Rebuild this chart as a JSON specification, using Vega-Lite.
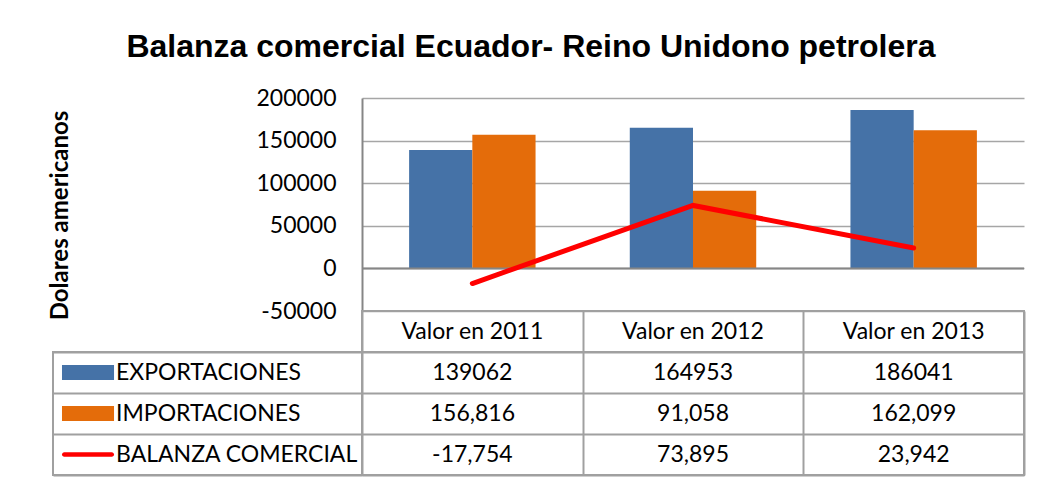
{
  "$schema": "https://vega.github.io/schema/vega-lite/v6.json",
  "datasets": {
    "valores": [
      {"anio": "Valor en 2011", "serie": "EXPORTACIONES", "valor": 139062},
      {"anio": "Valor en 2012", "serie": "EXPORTACIONES", "valor": 164953},
      {"anio": "Valor en 2013", "serie": "EXPORTACIONES", "valor": 186041},
      {"anio": "Valor en 2011", "serie": "IMPORTACIONES", "valor": 156816},
      {"anio": "Valor en 2012", "serie": "IMPORTACIONES", "valor": 91058},
      {"anio": "Valor en 2013", "serie": "IMPORTACIONES", "valor": 162099},
      {"anio": "Valor en 2011", "serie": "BALANZA COMERCIAL", "valor": -17754},
      {"anio": "Valor en 2012", "serie": "BALANZA COMERCIAL", "valor": 73895},
      {"anio": "Valor en 2013", "serie": "BALANZA COMERCIAL", "valor": 23942}
    ],
    "anios": [
      {"anio": "Valor en 2011"},
      {"anio": "Valor en 2012"},
      {"anio": "Valor en 2013"}
    ],
    "series": [
      {"serie": "EXPORTACIONES"},
      {"serie": "IMPORTACIONES"},
      {"serie": "BALANZA COMERCIAL"}
    ]
  },
  "title": {
    "text": "Balanza comercial Ecuador- Reino Unidono petrolera",
    "font": "Liberation Sans",
    "fontSize": 32,
    "fontWeight": "bold",
    "color": "#000000",
    "anchor": "middle",
    "dx": -6,
    "offset": 23
  },
  "padding": {"left": 48, "top": 31, "right": 5, "bottom": 5},
  "columns": 2,
  "spacing": 0,
  "bounds": "flush",
  "concat": [
    {
      "width": 309,
      "height": 213,
      "data": {"values": []},
      "mark": "point",
      "encoding": {},
      "view": {"stroke": null}
    },
    {
      "width": 662,
      "height": 213,
      "data": {"name": "valores"},
      "view": {"stroke": null},
      "layer": [
        {
          "transform": [{"filter": "datum.serie !== 'BALANZA COMERCIAL'"}],
          "mark": {"type": "bar"},
          "encoding": {
            "x": {
              "field": "anio",
              "type": "nominal",
              "sort": null,
              "scale": {"paddingInner": 0.427, "paddingOuter": 0.2135},
              "axis": null
            },
            "xOffset": {
              "field": "serie",
              "type": "nominal",
              "sort": null,
              "scale": {"domain": ["EXPORTACIONES", "IMPORTACIONES"], "paddingInner": 0, "paddingOuter": 0}
            },
            "y": {
              "field": "valor",
              "type": "quantitative",
              "scale": {"domain": [-50000, 200000], "nice": false, "zero": false},
              "axis": {
                "values": [-50000, 0, 50000, 100000, 150000, 200000],
                "format": "d",
                "grid": true,
                "gridColor": "#A6A6A6",
                "gridWidth": 1.5,
                "domainColor": "#868686",
                "domainWidth": 2,
                "ticks": false,
                "labelPadding": 26,
                "labelFont": "Lato",
                "labelFontSize": 23,
                "labelColor": "#000000",
                "title": "Dolares americanos",
                "titleFont": "Lato",
                "titleFontSize": 24,
                "titleFontWeight": "bold",
                "titleColor": "#000000",
                "titlePadding": 183,
                "titleY": 117
              }
            },
            "color": {
              "field": "serie",
              "type": "nominal",
              "scale": {"domain": ["EXPORTACIONES", "IMPORTACIONES"], "range": ["#4572A7", "#E46C0A"]},
              "legend": null
            }
          }
        },
        {
          "data": {"values": [{}]},
          "mark": {"type": "rule", "color": "#868686", "strokeWidth": 2},
          "encoding": {"y": {"datum": 0, "type": "quantitative"}}
        },
        {
          "transform": [{"filter": "datum.serie === 'BALANZA COMERCIAL'"}],
          "mark": {"type": "line", "color": "#FF0000", "strokeWidth": 5, "strokeCap": "round"},
          "encoding": {
            "x": {"field": "anio", "type": "nominal", "sort": null},
            "y": {"field": "valor", "type": "quantitative"}
          }
        }
      ]
    },
    {
      "width": 309,
      "height": 41,
      "data": {"values": []},
      "mark": "point",
      "encoding": {},
      "view": {"stroke": null}
    },
    {
      "width": 662,
      "height": 41,
      "data": {"name": "anios"},
      "view": {"stroke": "#A0A0A0", "strokeWidth": 2},
      "mark": {"type": "text", "font": "Lato", "fontSize": 23, "color": "#000000"},
      "encoding": {
        "x": {
          "field": "anio",
          "type": "nominal",
          "sort": null,
          "scale": {"paddingInner": 0, "paddingOuter": 0},
          "axis": {"title": null, "labels": false, "ticks": false, "domain": false, "grid": true, "tickBand": "extent", "gridColor": "#A0A0A0", "gridWidth": 2}
        },
        "text": {"field": "anio"}
      }
    },
    {
      "width": 309,
      "height": 123,
      "data": {"name": "series"},
      "view": {"stroke": "#A0A0A0", "strokeWidth": 2},
      "encoding": {
        "y": {
          "field": "serie",
          "type": "nominal",
          "scale": {"domain": ["EXPORTACIONES", "IMPORTACIONES", "BALANZA COMERCIAL"], "paddingInner": 0, "paddingOuter": 0},
          "axis": {"title": null, "labels": false, "ticks": false, "domain": false, "grid": true, "tickBand": "extent", "gridColor": "#A0A0A0", "gridWidth": 2}
        }
      },
      "layer": [
        {
          "transform": [{"filter": "datum.serie !== 'BALANZA COMERCIAL'"}],
          "mark": {"type": "rect", "height": {"band": 0.37}},
          "encoding": {
            "x": {
              "datum": "simbolo",
              "type": "nominal",
              "scale": {"domain": ["simbolo"], "paddingInner": 0.595, "paddingOuter": 1, "align": 0.035},
              "axis": null
            },
            "color": {
              "field": "serie",
              "type": "nominal",
              "scale": {"domain": ["EXPORTACIONES", "IMPORTACIONES"], "range": ["#4572A7", "#E46C0A"]},
              "legend": null
            }
          }
        },
        {
          "transform": [{"filter": "datum.serie === 'BALANZA COMERCIAL'"}],
          "mark": {"type": "rect", "height": {"band": 0.11}, "cornerRadius": 2.5, "color": "#FF0000"},
          "encoding": {
            "x": {"datum": "simbolo", "type": "nominal"}
          }
        },
        {
          "mark": {"type": "text", "align": "left", "dx": 2, "font": "Lato", "fontSize": 23, "color": "#000000"},
          "encoding": {
            "x": {"datum": "simbolo", "type": "nominal", "bandPosition": 1},
            "text": {"field": "serie"}
          }
        }
      ]
    },
    {
      "width": 662,
      "height": 123,
      "data": {"name": "valores"},
      "view": {"stroke": "#A0A0A0", "strokeWidth": 2},
      "encoding": {
        "x": {
          "field": "anio",
          "type": "nominal",
          "sort": null,
          "scale": {"paddingInner": 0, "paddingOuter": 0},
          "axis": {"title": null, "labels": false, "ticks": false, "domain": false, "grid": true, "tickBand": "extent", "gridColor": "#A0A0A0", "gridWidth": 2}
        },
        "y": {
          "field": "serie",
          "type": "nominal",
          "scale": {"domain": ["EXPORTACIONES", "IMPORTACIONES", "BALANZA COMERCIAL"], "paddingInner": 0, "paddingOuter": 0},
          "axis": {"title": null, "labels": false, "ticks": false, "domain": false, "grid": true, "tickBand": "extent", "gridColor": "#A0A0A0", "gridWidth": 2}
        }
      },
      "layer": [
        {
          "transform": [{"filter": "datum.serie === 'EXPORTACIONES'"}],
          "mark": {"type": "text", "font": "Lato", "fontSize": 23, "color": "#000000"},
          "encoding": {"text": {"field": "valor", "type": "quantitative", "format": "d"}}
        },
        {
          "transform": [{"filter": "datum.serie !== 'EXPORTACIONES'"}],
          "mark": {"type": "text", "font": "Lato", "fontSize": 23, "color": "#000000"},
          "encoding": {"text": {"field": "valor", "type": "quantitative", "format": ",d"}}
        }
      ]
    }
  ],
  "config": {
    "view": {"stroke": null},
    "font": "Lato",
    "locale": {
      "number": {"decimal": ".", "thousands": ",", "grouping": [3], "currency": ["$", ""], "minus": "-"}
    }
  }
}
